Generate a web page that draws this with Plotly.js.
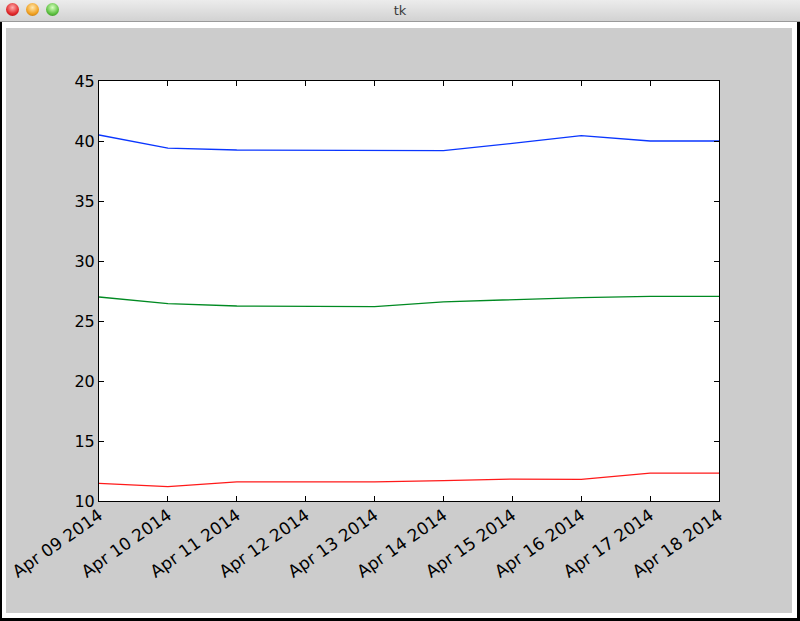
<!DOCTYPE html>
<html>
<head>
<meta charset="utf-8">
<script src="https://cdn.plot.ly/plotly-3.0.1.min.js"></script>
<style>
  html, body { margin: 0; padding: 0; width: 800px; height: 621px; overflow: hidden; background: #000; }
  #titlebar { position: absolute; left: 0; top: 0; width: 800px; height: 21px;
    background: linear-gradient(#ececec, #d2d2d2); border-bottom: 1px solid #9a9a9a;
    font-family: "DejaVu Sans", sans-serif; font-size: 13px; color: #3a3a3a; text-align: center; line-height: 21px; }
  .light { position: absolute; top: 3px; width: 13px; height: 13px; border-radius: 50%; }
  #frame { position: absolute; left: 2px; top: 22px; width: 795px; height: 596px; background: #fff; }
  #figbg { position: absolute; left: 6px; top: 28px; width: 786px; height: 585px; background: #cccccc; }
  #chart { position: absolute; left: 0; top: 0; width: 800px; height: 621px; }
</style>
</head>
<body>
<div id="titlebar">tk
  <div class="light" style="left:6px; background: radial-gradient(circle at 50% 35%, #ffb0b0, #e0282a 60%, #9e1416);"></div>
  <div class="light" style="left:26px; background: radial-gradient(circle at 50% 35%, #ffe8b0, #f0a020 60%, #a86810);"></div>
  <div class="light" style="left:46px; background: radial-gradient(circle at 50% 35%, #d8ffc0, #5cc040 60%, #2e7a1e);"></div>
</div>
<div id="frame"></div>
<div id="figbg"></div>
<div id="chart"></div>
<script>
const dates = ['2014-04-09','2014-04-10','2014-04-11','2014-04-12','2014-04-13',
               '2014-04-14','2014-04-15','2014-04-16','2014-04-17','2014-04-18'];
const blueValues  = [40.5, 39.4, 39.25, 39.25, 39.25, 39.2, 39.8, 40.45, 40.0, 40.0];
const greenValues = [27.0, 26.45, 26.25, 26.2, 26.2, 26.6, 26.8, 26.95, 27.05, 27.05];
const redValues   = [11.47, 11.2, 11.6, 11.6, 11.6, 11.7, 11.83, 11.8, 12.33, 12.33];
const yTicks = [10, 15, 20, 25, 30, 35, 40, 45];

const mk = (y, color) => ({
  x: dates, y: y, type: 'scatter', mode: 'lines',
  line: { color: color, width: 1.3 }, hoverinfo: 'skip', showlegend: false
});

const data = [
  mk(blueValues, '#0a36ff'),
  mk(greenValues, '#008a22'),
  mk(redValues, '#ff1a1a')
];

const axisCommon = {
  showline: true, linecolor: '#000', linewidth: 1, mirror: 'ticks',
  ticks: 'inside', ticklen: 5, tickcolor: '#000', tickwidth: 1,
  showgrid: false, zeroline: false,
  tickfont: { family: 'DejaVu Sans, sans-serif', size: 16, color: '#000' }
};

const layout = {
  width: 800, height: 621,
  paper_bgcolor: 'rgba(0,0,0,0)', plot_bgcolor: '#ffffff',
  margin: { l: 99, r: 81, t: 81, b: 120, pad: 0 },
  xaxis: Object.assign({}, axisCommon, {
    type: 'date', range: [dates[0], dates[dates.length - 1]],
    tickmode: 'array', tickvals: dates, tickformat: '%b %d %Y', tickangle: -35,
    tickfont: { family: 'DejaVu Sans, sans-serif', size: 17, color: '#000' },
    ticklabelstandoff: -3
  }),
  yaxis: Object.assign({}, axisCommon, {
    range: [10, 45], tickmode: 'array', tickvals: yTicks
  })
};

Plotly.newPlot('chart', data, layout, { staticPlot: true, displayModeBar: false });
</script>
</body>
</html>
